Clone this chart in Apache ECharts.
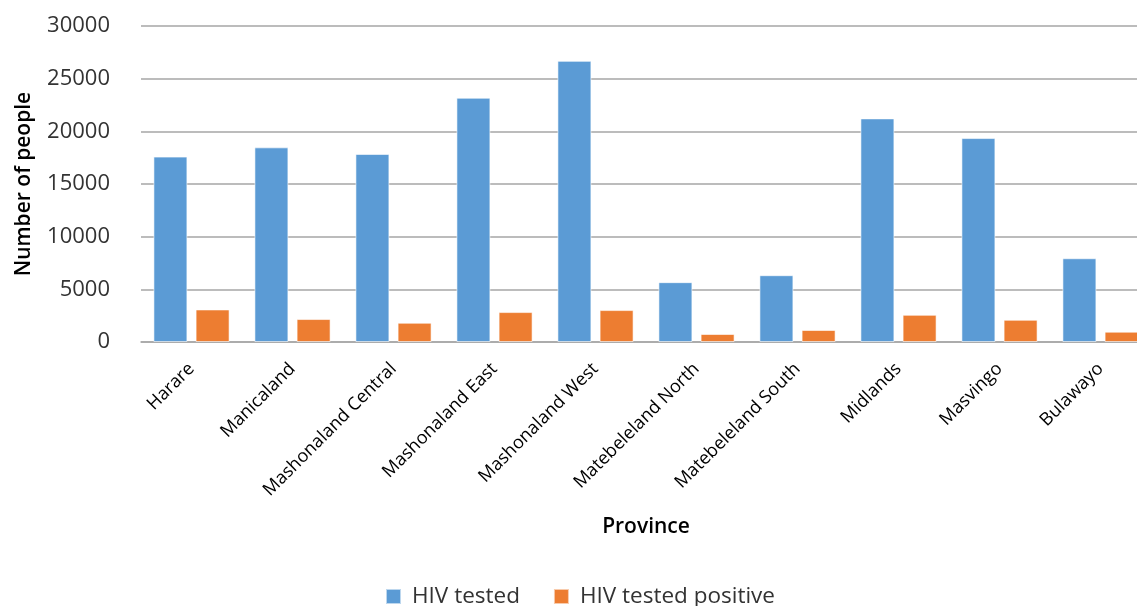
<!DOCTYPE html>
<html>
<head>
<meta charset="utf-8">
<script src="https://cdn.jsdelivr.net/npm/echarts@6/dist/echarts.min.js"></script>
<style>
  html, body { margin: 0; padding: 0; background: #fff; overflow: hidden; }
  /* a bit wider than the window: the original picture is cropped on the right */
  #main { width: 1151px; height: 606px; }
</style>
</head>
<body>
<div id="main"></div>
<script>
  // provinces on the x axis
  var provinces = ['Harare', 'Manicaland', 'Mashonaland Central', 'Mashonaland East', 'Mashonaland West',
    'Matebeleland North', 'Matebeleland South', 'Midlands', 'Masvingo', 'Bulawayo'];
  // values
  var hivTested = [17600, 18480, 17850, 23190, 26690, 5680, 6340, 21230, 19360, 7950];
  var hivPositive = [3090, 2180, 1830, 2840, 3030, 760, 1140, 2580, 2110, 980];
  var yTicks = [0, 5000, 10000, 15000, 20000, 25000, 30000];

  var font = 'Open Sans';
  var chart = echarts.init(document.getElementById('main'));
  chart.setOption({
    animation: false,
    textStyle: { fontFamily: font },
    color: ['#5B9BD5', '#ED7D31'],
    grid: { left: 141, right: 0, top: 26, bottom: 264, containLabel: false },
    legend: {
      data: ['HIV tested', 'HIV tested positive'],
      left: 380,
      top: 580,
      icon: 'rect',
      itemWidth: 15,
      itemHeight: 15,
      itemGap: 33,
      textStyle: { fontFamily: font, fontSize: 22.5, color: '#333', padding: [0, 0, 0, 6] }
    },
    xAxis: {
      type: 'category',
      data: provinces,
      name: 'Province',
      nameLocation: 'middle',
      nameGap: 175,
      nameTextStyle: { fontFamily: font, fontSize: 21, fontWeight: 600, color: '#000' },
      axisLine: { lineStyle: { color: '#a6a6a6', width: 1.5 } },
      axisTick: { show: false },
      axisLabel: {
        rotate: 45,
        margin: 24,
        interval: 0,
        fontSize: 18,
        color: '#000'
      }
    },
    yAxis: {
      type: 'value',
      min: yTicks[0],
      max: yTicks[yTicks.length - 1],
      interval: 5000,
      name: 'Number of people',
      nameLocation: 'middle',
      nameGap: 106,
      nameTextStyle: { fontFamily: font, fontSize: 21, fontWeight: 600, color: '#000' },
      axisLine: { show: false },
      axisTick: { show: false },
      axisLabel: {
        fontSize: 22,
        color: '#333',
        margin: 31,
        formatter: function (v) { return String(v); }
      },
      splitLine: { lineStyle: { color: '#a6a6a6', width: 1.5 } }
    },
    series: [
      {
        name: 'HIV tested',
        type: 'bar',
        data: hivTested,
        barWidth: 34,
        barGap: '24%',
        itemStyle: { borderColor: 'rgba(255,255,255,0.6)', borderWidth: 1 }
      },
      {
        name: 'HIV tested positive',
        type: 'bar',
        data: hivPositive,
        barWidth: 34,
        barGap: '24%',
        itemStyle: { borderColor: 'rgba(255,255,255,0.6)', borderWidth: 1 }
      }
    ]
  });
</script>
</body>
</html>
